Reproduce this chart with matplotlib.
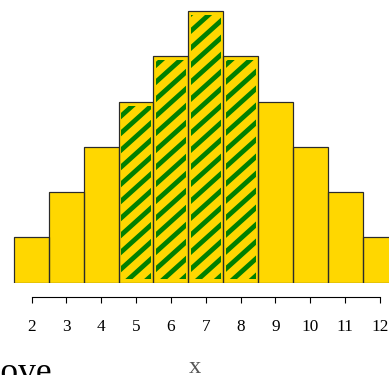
import numpy as np
import matplotlib
matplotlib.use("Agg")
import matplotlib.pyplot as plt
from matplotlib.patches import Rectangle
from matplotlib.collections import LineCollection

# two-dice sums: counts out of 36
sums = [2, 3, 4, 5, 6, 7, 8, 9, 10, 11, 12]
counts = [1, 2, 3, 4, 5, 6, 5, 4, 3, 2, 1]
shaded = [5, 6, 7, 8]
tick_labels = [str(s) for s in sums]

GOLD = "#FFD700"
GREEN = "#008000"
EDGE = "#2b2b2b"

plt.rcParams["font.family"] = ["Liberation Serif", "DejaVu Serif"]

DPI = 80
fig = plt.figure(figsize=(389 / DPI, 375 / DPI), dpi=DPI, facecolor="white")
ax = fig.add_axes([0, 0.2461, 1, 0.7539])
ax.set_facecolor("none")
ax.set_xlim(1.096, 12.258)
ax.set_ylim(0, 6.248)

x = np.array(sums, dtype=float)
h = np.array(counts, dtype=float)

# base bars
ax.bar(x, h, width=1.0, color=GOLD, edgecolor="none", linewidth=0, zorder=1)

# diagonal stripes inside the shaded bars
px_x = 34.85   # pixels per x unit
px_y = 45.25   # pixels per y unit
slope = np.tan(np.radians(42)) * px_x / px_y
step = 17.0 / px_y
inset_x = 2.5 / px_x
inset_y = 4.0 / px_y
for xi, hi in zip(x, h):
    if xi not in shaded:
        continue
    left, right = xi - 0.5 + inset_x, xi + 0.5 - inset_x
    bottom, top = inset_y, hi - inset_y
    clip = Rectangle((left, bottom), right - left, top - bottom,
                     transform=ax.transData, facecolor="none", edgecolor="none")
    ax.add_patch(clip)
    segs = []
    for y0 in np.arange(-2.0, hi + 1.0, step):
        segs.append([(xi - 0.5, y0), (xi + 0.5, y0 + slope)])
    lc = LineCollection(segs, colors=GREEN, linewidths=4.3, zorder=2,
                        capstyle="butt")
    ax.add_collection(lc)
    lc.set_clip_path(clip)

# outlines
ax.bar(x, h, width=1.0, color="none", edgecolor=EDGE, linewidth=1.1, zorder=3)

for s in ["top", "left", "right"]:
    ax.spines[s].set_visible(False)
ax.spines["bottom"].set_position(("outward", 12.6))
ax.spines["bottom"].set_bounds(sums[0], sums[-1])
ax.spines["bottom"].set_linewidth(1.0)
ax.spines["bottom"].set_color("black")

ax.set_yticks([])
ax.set_xticks(sums)
ax.set_xticklabels(tick_labels)
ax.tick_params(axis="x", direction="out", length=5.1, width=1.0,
               pad=15, labelsize=15.5, colors="black")

ax.set_xlabel("x", fontsize=22, color="#555555", labelpad=20)

fig.text(52 / 389, -0.02, "Above", ha="right", va="baseline",
         fontsize=32, color="black")

fig.savefig("out.png", dpi=DPI)
